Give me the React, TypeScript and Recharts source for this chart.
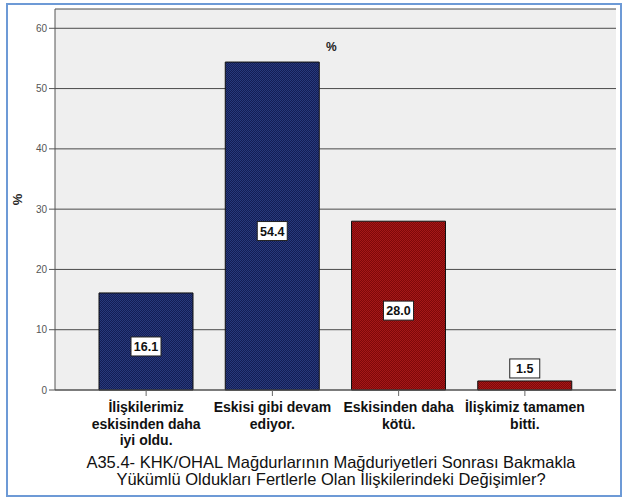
import { BarChart, Bar, XAxis, YAxis, CartesianGrid, Cell, LabelList } from 'recharts';

const categories = [
  ['İlişkilerimiz', 'eskisinden daha', 'iyi oldu.'],
  ['Eskisi gibi devam', 'ediyor.'],
  ['Eskisinden daha', 'kötü.'],
  ['İlişkimiz tamamen', 'bitti.'],
];
const percents = [16.1, 54.4, 28.0, 1.5];
const yTicks = [0, 10, 20, 30, 40, 50, 60];
const barPatterns = ['url(#navy)', 'url(#navy)', 'url(#darkred)', 'url(#darkred)'];

const chartData = categories.map((lines, i) => ({
  name: lines.join(' '),
  lines,
  value: percents[i],
}));

const FONT = 'Arial, "Liberation Sans", sans-serif';

function CategoryTick(props: any) {
  const { x, y, payload, index } = props;
  const lines = categories[index] ?? [payload.value];
  return (
    <text
      x={x}
      y={y}
      textAnchor="middle"
      fontFamily={FONT}
      fontSize={14}
      fontWeight="bold"
      fill="#111"
    >
      {lines.map((l: string, i: number) => (
        <tspan key={i} x={x} dy={i === 0 ? 14 : 16.5}>
          {l}
        </tspan>
      ))}
    </text>
  );
}

function ValueBox(props: any) {
  const { x, y, width, height, value } = props;
  const w = 30;
  const h = 19;
  const cx = x + width / 2;
  const cy = height < 30 ? y - 3 - h / 2 : y + height / 2 + 5;
  return (
    <g>
      <rect x={cx - w / 2} y={cy - h / 2} width={w} height={h} fill="#fff" stroke="#222" strokeWidth={1} />
      <text
        x={cx}
        y={cy + 4.5}
        textAnchor="middle"
        fontFamily={FONT}
        fontSize={12.5}
        fontWeight="bold"
        fill="#111"
      >
        {Number(value).toFixed(1)}
      </text>
    </g>
  );
}

export default function App() {
  return (
    <div style={{ position: 'absolute', left: 0, top: 0, width: 626, height: 498, background: '#fff', fontFamily: FONT }}>
      <div
        style={{
          position: 'absolute',
          left: 6,
          top: 3,
          width: 612,
          height: 490,
          border: '2px solid #6d9ad6',
        }}
      />
      <div style={{ position: 'absolute', left: 0, top: 0 }}>
        <BarChart
          width={626}
          height={498}
          data={chartData}
          margin={{ top: 9, right: 10, left: 0, bottom: 0 }}
        >
          <defs>
            <pattern id="navy" width={2} height={2} patternUnits="userSpaceOnUse">
              <rect width={2} height={2} fill="#131d55" />
              <rect width={1} height={1} fill="#283a7c" />
              <rect x={1} y={1} width={1} height={1} fill="#283a7c" />
            </pattern>
            <pattern id="darkred" width={2} height={2} patternUnits="userSpaceOnUse">
              <rect width={2} height={2} fill="#7e0809" />
              <rect width={1} height={1} fill="#a51818" />
              <rect x={1} y={1} width={1} height={1} fill="#a51818" />
            </pattern>
          </defs>
          <CartesianGrid fill="#efefef" vertical={false} stroke="#4a4a4a" strokeWidth={1} />
          <XAxis
            dataKey="name"
            interval={0}
            padding={{ left: 28, right: 28 }}
            height={108}
            tickSize={6}
            tickMargin={2}
            tickLine={{ stroke: '#666' }}
            axisLine={{ stroke: '#555' }}
            tick={<CategoryTick />}
          />
          <XAxis xAxisId="top" dataKey="name" orientation="top" height={0} tick={false} tickLine={false} axisLine={{ stroke: '#555' }} />
          <YAxis
            domain={[0, 63.2]}
            ticks={yTicks}
            width={55}
            tickSize={6}
            tickMargin={2}
            tickLine={{ stroke: '#555' }}
            axisLine={{ stroke: '#555' }}
            tick={{ fill: '#555', fontSize: 10, fontFamily: FONT }}
          />
          <YAxis yAxisId="right" orientation="right" width={0} tick={false} tickLine={false} axisLine={{ stroke: '#555' }} />
          <Bar dataKey="value" barSize={94} stroke="#111" strokeWidth={1} isAnimationActive={false}>
            {chartData.map((_, i) => (
              <Cell key={`c-${i}`} fill={barPatterns[i]} />
            ))}
            <LabelList dataKey="value" content={<ValueBox />} />
          </Bar>
        </BarChart>
      </div>
      <div style={{ position: 'absolute', left: 326, top: 40, fontSize: 12, fontWeight: 'bold', color: '#222' }}>%</div>
      <div
        style={{
          position: 'absolute',
          left: 12,
          top: 192,
          fontSize: 13,
          fontWeight: 'bold',
          color: '#222',
          transform: 'rotate(-90deg)',
        }}
      >
        %
      </div>
      <div
        style={{
          position: 'absolute',
          left: 31,
          top: 454,
          width: 600,
          textAlign: 'center',
          fontSize: 16.5,
          lineHeight: '17px',
          color: '#111',
        }}
      >
        A35.4- KHK/OHAL Mağdurlarının Mağduriyetleri Sonrası Bakmakla
        <br />
        Yükümlü Oldukları Fertlerle Olan İlişkilerindeki Değişimler?
      </div>
    </div>
  );
}
